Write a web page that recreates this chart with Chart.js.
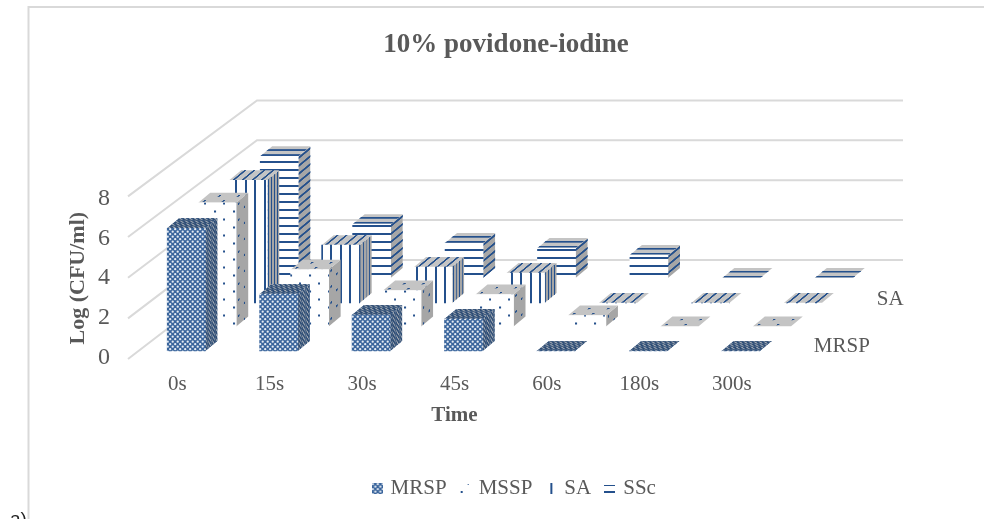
<!DOCTYPE html>
<html>
<head>
<meta charset="utf-8">
<style>
  html, body { margin: 0; padding: 0; background: #fff; overflow: hidden; }
  canvas { display: block; }
</style>
<script src="https://cdn.jsdelivr.net/npm/chart.js@4"></script>
</head>
<body>
<canvas id="chart" width="984" height="519"></canvas>
<script>
var categories = ["0s", "15s", "30s", "45s", "60s", "180s", "300s"];
var seriesNames = ["MRSP", "MSSP", "SA", "SSc"];
var mrspValues = [6.15, 2.85, 1.8, 1.6, 0, 0, 0];
var msspValues = [6.2, 2.85, 1.8, 1.6, 0.55, 0, 0];
var saValues = [6.15, 2.9, 1.8, 1.5, 0, 0, 0];
var sscValues = [6.1, 2.7, 1.75, 1.5, 1.15, 0, 0];
var valueTicks = [0, 2, 4, 6, 8];

var FONT = "'Liberation Serif', serif";
var TEXT = "#595959";
var BLUE = "#24508c";
var GRID = "#d9d9d9";

// how far each series sits back on the floor
var seriesShift = [[9, -7], [40, -31.5], [71, -55], [102, -80]];
var BAR_DX = 12;
var BAR_DY = -10;
var TOP_UNITS = 16;
var sideUnits = [38, 19, 38, 38];

function makeTile(w, h, paint) {
  var c = document.createElement("canvas");
  c.width = w;
  c.height = h;
  paint(c.getContext("2d"));
  return c;
}

function patternOf(tile) {
  return document.createElement("canvas").getContext("2d").createPattern(tile, "repeat");
}

// Tiles, transparent where the face colour should show through
var tiles = [
  makeTile(10, 10, function (g) {
    g.fillStyle = "#3a659c";
    g.fillRect(0, 0, 10, 10);
    g.fillStyle = "#e6ecf4";
    [[1.2, 1.2], [6.2, 1.2], [3.7, 3.7], [8.7, 3.7], [1.2, 6.2], [6.2, 6.2], [3.7, 8.7], [8.7, 8.7]].forEach(function (h) {
      g.beginPath();
      g.arc(h[0], h[1], 1.15, 0, Math.PI * 2);
      g.fill();
    });
  }),
  makeTile(19, 16, function (g) {
    g.fillStyle = BLUE;
    g.fillRect(3, 2, 2, 2);
    g.fillRect(12, 10, 2, 2);
  }),
  makeTile(19, 2, function (g) {
    g.fillStyle = BLUE;
    g.fillRect(3, 0, 2, 2);
    g.fillRect(12, 0, 2, 2);
  }),
  makeTile(2, 8, function (g) {
    g.fillStyle = BLUE;
    g.fillRect(0, 1, 2, 2);
  })
];

var frontFills = tiles.map(function (tile) {
  var solid = makeTile(tile.width, tile.height, function (g) {
    g.fillStyle = "#fff";
    g.fillRect(0, 0, tile.width, tile.height);
    g.drawImage(tile, 0, 0);
  });
  return patternOf(solid);
});
var markFills = tiles.map(patternOf);

// Legend swatches
var legendIcons = [
  makeTile(11, 11, function (g) {
    g.fillStyle = markFills[0];
    g.fillRect(0, 0, 11, 11);
  }),
  makeTile(11, 11, function (g) {
    g.fillStyle = BLUE;
    g.fillRect(1, 8, 2, 2);
    g.fillRect(8, 1, 1, 1);
  }),
  makeTile(11, 11, function (g) {
    g.fillStyle = BLUE;
    g.fillRect(5, 0, 2, 11);
  }),
  makeTile(11, 11, function (g) {
    g.fillStyle = BLUE;
    g.fillRect(0, 2, 11, 1);
    g.fillRect(0, 8, 11, 2);
  })
];

function paintFace(ctx, m, w, h, base, marks, shade) {
  ctx.save();
  ctx.transform(m[0], m[1], m[2], m[3], m[4], m[5]);
  ctx.fillStyle = base;
  ctx.fillRect(0, 0, w, h);
  ctx.fillStyle = marks;
  ctx.fillRect(0, 0, w, h);
  ctx.fillRect(0, 0, w, h);
  if (shade) {
    ctx.fillStyle = shade;
    ctx.fillRect(0, 0, w, h);
  }
  ctx.restore();
}

var barDepth = {
  id: "barDepth",
  // Shift the whole series back, then add the top and side of every bar
  beforeDatasetDraw: function (chart, args) {
    var ctx = chart.ctx;
    var i = args.index;
    var shade = i === 0 ? "rgba(0,0,0,0.25)" : null;
    ctx.save();
    ctx.translate(seriesShift[i][0], seriesShift[i][1]);
    args.meta.data.forEach(function (bar) {
      var p = bar.getProps(["x", "y", "base", "width"], true);
      var left = p.x - p.width / 2;
      var right = p.x + p.width / 2;
      var h = p.base - p.y;
      var u = sideUnits[i];
      if (h > 0) {
        paintFace(ctx, [BAR_DX / u, BAR_DY / u, 0, 1, right, p.y], u, h, "#a6a6a6", markFills[i], shade);
      }
      paintFace(ctx, [1, 0, BAR_DX / TOP_UNITS, BAR_DY / TOP_UNITS, left, p.y], p.width, TOP_UNITS, "#c4c4c4", markFills[i], shade);
    });
  },
  afterDatasetDraw: function (chart) {
    chart.ctx.restore();
  },
  // Wall lines, frame and the depth axis labels
  beforeDatasetsDraw: function (chart) {
    var ctx = chart.ctx;
    var y = chart.scales.y;
    var left = chart.chartArea.left;
    ctx.save();
    ctx.strokeStyle = GRID;
    ctx.lineWidth = 2;
    ctx.beginPath();
    ctx.moveTo(28.5, 519);
    ctx.lineTo(28.5, 7);
    ctx.lineTo(984, 7);
    ctx.stroke();
    valueTicks.forEach(function (v) {
      var p = y.getPixelForValue(v);
      ctx.beginPath();
      ctx.moveTo(left - 3, p + 1 - 0.375 * v);
      ctx.lineTo(left + 126, p - 98);
      ctx.lineTo(903, p - 98);
      ctx.stroke();
    });
    ctx.restore();
  },
  afterDatasetsDraw: function (chart) {
    var ctx = chart.ctx;
    var x = chart.scales.x;
    var y = chart.scales.y;
    var lastX = x.getPixelForValue(categories.length - 1);
    ctx.save();
    ctx.font = "21px " + FONT;
    ctx.fillStyle = TEXT;
    ctx.textAlign = "left";
    ctx.textBaseline = "middle";
    ctx.fillText(seriesNames[0], lastX + seriesShift[0][0] + 73, y.getPixelForValue(0) - 12);
    ctx.fillText(seriesNames[2], lastX + seriesShift[2][0] + 74, y.getPixelForValue(0) - 59);
    ctx.font = "19px 'Liberation Sans', sans-serif";
    ctx.fillStyle = "#222";
    ctx.textBaseline = "alphabetic";
    ctx.fillText("a)", 10, 525);
    ctx.restore();
  },
  afterLayout: function (chart) {
    chart.legend.left += 9;
    chart.legend.right += 9;
  }
};

new Chart(document.getElementById("chart"), {
  type: "bar",
  data: {
    labels: categories,
    datasets: [mrspValues, msspValues, saValues, sscValues].map(function (values, i) {
      return {
        label: seriesNames[i],
        data: values,
        backgroundColor: frontFills[i],
        borderWidth: 0,
        barThickness: 38,
        grouped: false,
        clip: false
      };
    })
  },
  options: {
    responsive: false,
    animation: false,
    events: [],
    layout: { padding: { left: 28, right: 0, top: 0, bottom: 10 } },
    scales: {
      x: {
        grid: { display: false, drawTicks: false },
        border: { display: false },
        ticks: { color: TEXT, font: { family: FONT, size: 21 }, padding: 14, maxRotation: 0 },
        title: {
          display: true,
          text: "Time",
          color: TEXT,
          font: { family: FONT, size: 21, weight: "bold" },
          padding: { top: 0, bottom: 34 }
        },
        afterFit: function (scale) {
          scale.height = 104.5;
        }
      },
      y: {
        min: 0,
        max: 8,
        grid: { display: false, drawTicks: false },
        border: { display: false },
        ticks: { stepSize: 2, color: TEXT, font: { family: FONT, size: 24 }, padding: 21 },
        title: {
          display: true,
          text: "Log (CFU/ml)",
          color: TEXT,
          font: { family: FONT, size: 22, weight: "bold" },
          padding: { top: 37, bottom: 0 }
        },
        afterFit: function (scale) {
          scale.width = 103;
        }
      },
      yRight: {
        position: "right",
        grid: { display: false, drawTicks: false },
        border: { display: false },
        ticks: { display: false },
        afterFit: function (scale) {
          scale.width = 206;
        }
      }
    },
    plugins: {
      title: {
        display: true,
        text: "10% povidone-iodine",
        color: TEXT,
        font: { family: FONT, size: 27, weight: "bold" },
        padding: { top: 29, bottom: 137 }
      },
      legend: {
        position: "bottom",
        labels: {
          color: TEXT,
          font: { family: FONT, size: 21 },
          usePointStyle: true,
          pointStyleWidth: 6,
          padding: 15.5,
          generateLabels: function (chart) {
            return Chart.defaults.plugins.legend.labels.generateLabels(chart).map(function (item, i) {
              item.pointStyle = legendIcons[i];
              return item;
            });
          }
        }
      },
      tooltip: { enabled: false }
    }
  },
  plugins: [barDepth]
});
</script>
</body>
</html>
